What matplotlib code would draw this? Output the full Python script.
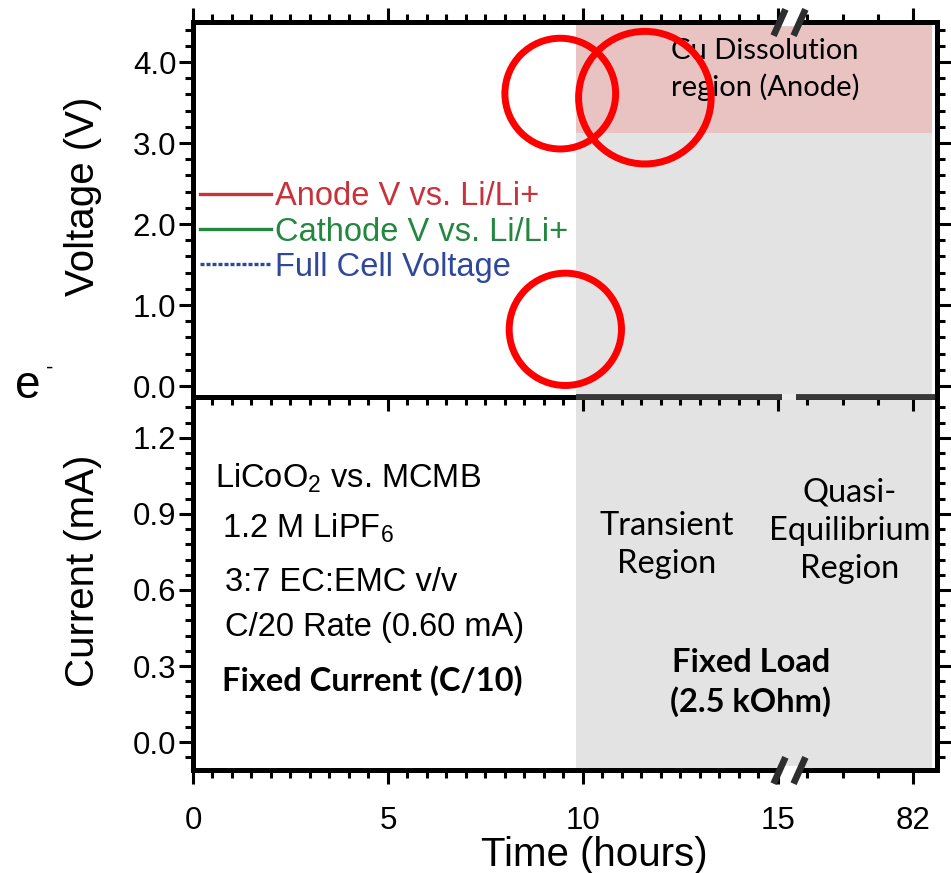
import matplotlib
matplotlib.use('Agg')
import matplotlib.pyplot as plt
import matplotlib.transforms as mtransforms
from matplotlib.lines import Line2D
from matplotlib.patches import Ellipse
import numpy as np

plt.rcParams['font.family'] = ['Liberation Sans', 'DejaVu Sans']
plt.rcParams['mathtext.fontset'] = 'custom'
plt.rcParams['mathtext.rm'] = 'Liberation Sans'
plt.rcParams['mathtext.it'] = 'Liberation Sans'

# time axis (hours), broken after 15 h, last tick is 82 h
time_ticks = [0, 5, 10, 15, 18.46]
time_labels = ['0', '5', '10', '15', '82']
time_minor = list(np.arange(0, 15, 0.5)) + [15.74, 16.67, 17.56]
time_max = 19.08
break_time = 15.28
switch_time = 9.82      # fixed current -> fixed load
shade_end = 18.95

volt_ticks = [0.0, 1.0, 2.0, 3.0, 4.0]
volt_lim = (-0.136, 4.494)
cu_dissolution_v = 3.12

curr_ticks = [0.0, 0.3, 0.6, 0.9, 1.2]
curr_lim = (-0.110, 1.361)

legend_labels = ['Anode V vs. Li/Li+', 'Cathode V vs. Li/Li+', 'Full Cell Voltage']
legend_colors = ['#c8323a', '#23873f', '#30489a']
legend_styles = ['-', '-', (0, (1.2, 0.6))]

# highlight circles (hours, volts, radius in hours)
circle_x = [9.42, 11.59, 9.55]
circle_y = [3.61, 3.56, 0.70]
circle_r = [1.42, 1.70, 1.44]

black = '#000000'
dark = '#383838'
gray = '#e3e3e3'
pink = '#e9c2c2'
calibri = ['Lato', 'DejaVu Sans']
tick_fs = 22.5
label_fs = 29
note_fs = 23.5

fig = plt.figure(figsize=(9.51, 8.73), dpi=100)
ax1 = fig.add_axes([0.2029, 0.5452, 0.7823, 0.4296])
ax2 = fig.add_axes([0.2029, 0.1180, 0.7823, 0.4272])

for ax in (ax1, ax2):
    ax.set_xlim(0, time_max)
    ax.set_xticks(time_ticks)
    ax.set_xticks(time_minor, minor=True)
    for s in ax.spines.values():
        s.set_linewidth(3.6)
        s.set_color(black)
    ax.tick_params(which='major', length=10, width=2.2, color=black)
    ax.tick_params(which='minor', length=5.5, width=2.2, color=black)

# top panel: voltage
ax1.set_ylim(*volt_lim)
ax1.set_yticks(volt_ticks)
ax1.set_yticks(np.arange(0, 4.5, 0.2), minor=True)
ax1.set_yticklabels(['%.1f' % v for v in volt_ticks])
ax1.tick_params(axis='x', which='both', direction='out', top=True, bottom=False,
                labelbottom=False, labeltop=False)
ax1.tick_params(axis='y', which='both', direction='out', left=True, right=True,
                labelsize=tick_fs, pad=2)
ax1.axvspan(switch_time, shade_end, color=gray, lw=0, zorder=0)
ax1.fill_between([switch_time, shade_end], cu_dissolution_v, volt_lim[1],
                 color=pink, lw=0, zorder=0.5)
ax1.set_ylabel('Voltage (V)', fontsize=label_fs)
ax1.yaxis.set_label_coords(-0.122, 0.535)

handles = [Line2D([], [], color=c, ls=ls, lw=2.4) for c, ls in zip(legend_colors, legend_styles)]
leg = ax1.legend(handles, legend_labels, loc='center left', bbox_to_anchor=(0.009, 0.44),
                 frameon=False, fontsize=note_fs, handlelength=2.2, handletextpad=0.12,
                 labelspacing=0.13, borderpad=0, borderaxespad=0)
for t, c in zip(leg.get_texts(), legend_colors):
    t.set_color(c)

ax1.text(14.67, 3.91, 'Cu Dissolution\nregion (Anode)', ha='center', va='center',
         fontsize=21, family=calibri, linespacing=1.4, zorder=3)

# bottom panel: current
ax2.set_ylim(*curr_lim)
ax2.set_yticks(curr_ticks)
ax2.set_yticks(np.arange(-0.06, 1.37, 0.06), minor=True)
ax2.set_yticklabels(['%.1f' % v for v in curr_ticks])
ax2.tick_params(axis='x', which='both', top=True, bottom=True)
ax2.tick_params(axis='x', which='both', direction='out', labelsize=tick_fs, pad=16)
ax2.tick_params(axis='y', which='both', direction='out', left=True, right=True,
                labelsize=tick_fs, pad=2)
ax2.set_xticklabels(time_labels)
ax2.axvspan(switch_time, shade_end, color=gray, lw=0, zorder=0)
ax2.set_ylabel('Current (mA)', fontsize=label_fs)
ax2.yaxis.set_label_coords(-0.122, 0.535)
ax2.set_xlabel('Time (hours)', fontsize=label_fs)
ax2.xaxis.set_label_coords(0.54, -0.178)

# top ticks of lower panel point inward (into the panel)
for tk in ax2.xaxis.get_major_ticks() + ax2.xaxis.get_minor_ticks():
    tk.tick2line.set_marker(matplotlib.lines.TICKDOWN)

ax2.text(0.56, 1.039, r'LiCoO$_2$ vs. MCMB', fontsize=note_fs, va='center')
ax2.text(0.74, 0.842, r'1.2 M LiPF$_6$', fontsize=note_fs, va='center')
ax2.text(0.82, 0.629, '3:7 EC:EMC v/v', fontsize=note_fs, va='center')
ax2.text(0.82, 0.452, 'C/20 Rate (0.60 mA)', fontsize=note_fs, va='center')
ax2.text(0.74, 0.244, 'Fixed Current (C/10)', fontsize=note_fs, fontweight='bold',
         family=calibri, va='center')
ax2.text(12.15, 0.777, 'Transient\nRegion', ha='center', va='center', fontsize=note_fs,
         family=calibri, linespacing=1.35)
ax2.text(16.85, 0.834, 'Quasi-\nEquilibrium\nRegion', ha='center', va='center',
         fontsize=note_fs, family=calibri, linespacing=1.35)
ax2.text(14.31, 0.234, 'Fixed Load\n(2.5 kOhm)', ha='center', va='center', fontsize=note_fs,
         fontweight='bold', family=calibri, linespacing=1.35)

fig.text(0.016, 0.558, 'e', fontsize=33, va='center')
fig.text(0.048, 0.578, '-', fontsize=16, va='center')

# shared spine turns dark gray in the fixed-load region, with a gap at the break
tr2 = mtransforms.blended_transform_factory(ax2.transData, ax2.transAxes)
gap = 0.18
ax2.plot([switch_time, break_time - gap], [1, 1], transform=tr2, color=dark, lw=4.2,
         clip_on=False, solid_capstyle='butt', zorder=5)
ax2.plot([break_time + gap, time_max - 0.05], [1, 1], transform=tr2, color=dark, lw=4.2,
         clip_on=False, solid_capstyle='butt', zorder=5)
ax2.plot([break_time - gap, break_time + gap], [1, 1], transform=tr2, color='#ececec', lw=4.6,
         clip_on=False, solid_capstyle='butt', zorder=5)

# axis break marks (top of upper panel, bottom of lower panel)
tr1 = mtransforms.blended_transform_factory(ax1.transData, ax1.transAxes)
d = 0.26
slash = [(-0.45, -1), (0.45, 1)]
for ax, tr, yy in ((ax1, tr1, 1), (ax2, tr2, 0)):
    ax.plot([break_time - d, break_time + d], [yy, yy], transform=tr, color='white', lw=6,
            clip_on=False, solid_capstyle='butt', zorder=6)
    ax.plot([break_time - d, break_time + d], [yy, yy], transform=tr, ls='none',
            marker=slash, markersize=19, mew=4.8, mec='#2e2e2e', clip_on=False, zorder=7)

# red highlight circles, kept round in pixel space
fig.canvas.draw()
bb = ax1.get_window_extent()
px_per_h = bb.width / time_max
px_per_v = bb.height / (volt_lim[1] - volt_lim[0])
for cx, cy, r in zip(circle_x, circle_y, circle_r):
    ax1.add_patch(Ellipse((cx, cy), 2 * r, 2 * r * px_per_h / px_per_v, fill=False,
                          ec='#ff0000', lw=5, clip_on=False, zorder=10))

fig.savefig('out.png', dpi=100)
